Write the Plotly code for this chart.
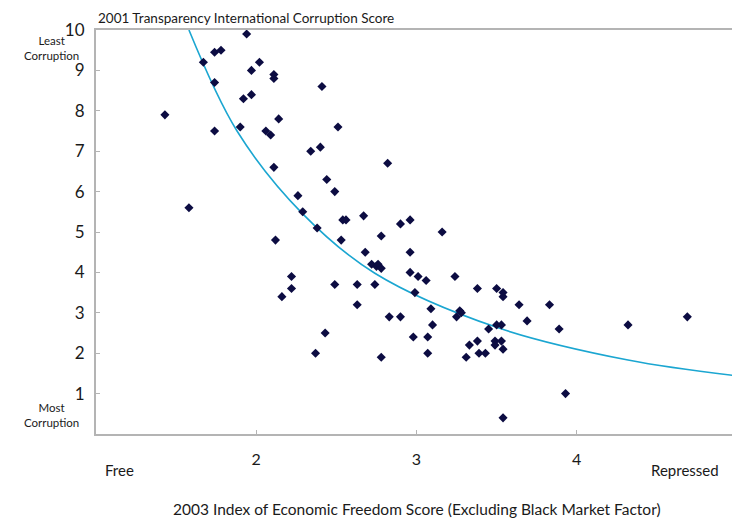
import plotly.graph_objects as go

# 2003 Index of Economic Freedom (x) vs 2001 TI corruption score (y)
freedom = [1.43, 1.58, 1.67, 1.74, 1.78, 1.74, 1.74, 1.90, 1.92, 1.94,
           1.97, 1.97, 2.02, 2.06, 2.09, 2.11, 2.11, 2.11, 2.12, 2.14,
           2.16, 2.22, 2.22, 2.26, 2.29, 2.34, 2.37, 2.38, 2.40, 2.41,
           2.43, 2.44, 2.49, 2.49, 2.51, 2.53, 2.54, 2.56, 2.63, 2.63,
           2.67, 2.68, 2.72, 2.74, 2.75, 2.76, 2.78, 2.78, 2.78, 2.82,
           2.83, 2.90, 2.90, 2.96, 2.96, 2.96, 2.98, 2.99, 3.01, 3.06,
           3.07, 3.07, 3.09, 3.10, 3.16, 3.24, 3.25, 3.27, 3.28, 3.31,
           3.33, 3.38, 3.38, 3.39, 3.43, 3.45, 3.49, 3.49, 3.50, 3.50,
           3.53, 3.53, 3.54, 3.54, 3.54, 3.54, 3.64, 3.69, 3.83, 3.89,
           3.93, 4.32, 4.69]
corruption = [7.9, 5.6, 9.2, 9.45, 9.5, 8.7, 7.5, 7.6, 8.3, 9.9,
              9.0, 8.4, 9.2, 7.5, 7.4, 8.9, 8.8, 6.6, 4.8, 7.8,
              3.4, 3.9, 3.6, 5.9, 5.5, 7.0, 2.0, 5.1, 7.1, 8.6,
              2.5, 6.3, 6.0, 3.7, 7.6, 4.8, 5.3, 5.3, 3.7, 3.2,
              5.4, 4.5, 4.2, 3.7, 4.15, 4.2, 4.1, 4.9, 1.9, 6.7,
              2.9, 2.9, 5.2, 5.3, 4.5, 4.0, 2.4, 3.5, 3.9, 3.8,
              2.4, 2.0, 3.1, 2.7, 5.0, 3.9, 2.9, 3.05, 3.0, 1.9,
              2.2, 2.3, 3.6, 2.0, 2.0, 2.6, 2.3, 2.2, 3.6, 2.7,
              2.7, 2.3, 2.1, 3.5, 3.4, 0.4, 3.2, 2.8, 3.2, 2.6,
              1.0, 2.7, 2.9]

# trend curve
trend_x = [1.58, 1.88, 2.29, 2.74, 3.50, 4.32, 5.00]
trend_y = [10.0, 7.50, 5.45, 3.98, 2.64, 1.83, 1.44]

x_ticks = [2, 3, 4, 5]
y_ticks = [1, 2, 3, 4, 5, 6, 7, 8, 9, 10]

FONT = 'Lato, "Open Sans", sans-serif'
AXIS_GREY = '#b4b4b4'
TEXT = '#1a1a1a'

fig = go.Figure()

fig.add_trace(go.Scatter(
    x=trend_x, y=trend_y,
    mode='lines',
    line=dict(color='#1ba6d1', width=1.6, shape='spline', smoothing=1.0),
    hoverinfo='skip',
))

fig.add_trace(go.Scatter(
    x=freedom, y=corruption,
    mode='markers',
    marker=dict(symbol='diamond', size=7, color='#0c0c42'),
    hovertemplate='%{x}<br>%{y}<extra></extra>',
))

# page body adds an 8px offset, so the figure is drawn a bit smaller
fig.update_layout(
    width=732, height=511,
    paper_bgcolor='white',
    plot_bgcolor='white',
    showlegend=False,
    font=dict(family=FONT, color=TEXT),
    margin=dict(l=88, r=3, t=22, b=85),
    xaxis=dict(
        range=[1, 5], tickvals=x_ticks, ticktext=[str(v) for v in x_ticks],
        showgrid=False, zeroline=False, automargin=False,
        showline=True, linecolor=AXIS_GREY, linewidth=2, mirror=True,
        ticks='inside', ticklen=4, tickcolor=AXIS_GREY,
        tickfont=dict(size=16, color=TEXT), ticklabelstandoff=10,
        ticklabeloverflow='allow',
    ),
    yaxis=dict(
        range=[0, 10], tickvals=y_ticks, ticktext=[str(v) for v in y_ticks],
        showgrid=False, zeroline=False, automargin=False,
        showline=True, linecolor=AXIS_GREY, linewidth=2, mirror=True,
        ticks='inside', ticklen=4, tickcolor=AXIS_GREY,
        tickfont=dict(size=17, color=TEXT), ticklabelstandoff=6,
    ),
)

fig.add_annotation(text='2001 Transparency International Corruption Score',
                   xref='paper', yref='paper', x=0, y=1.0, xanchor='left', yanchor='bottom',
                   yshift=2, showarrow=False, font=dict(size=13.5, color=TEXT))
fig.add_annotation(text='Least<br>Corruption', xref='paper', yref='paper',
                   x=-0.070, y=0.996, xanchor='center', yanchor='top',
                   showarrow=False, font=dict(size=11.5, color=TEXT))
fig.add_annotation(text='Most<br>Corruption', xref='paper', yref='paper',
                   x=-0.070, y=0.086, xanchor='center', yanchor='top',
                   showarrow=False, font=dict(size=11.5, color=TEXT))
fig.add_annotation(text='Free', xref='paper', yref='paper',
                   x=0.011, y=-0.062, xanchor='left', yanchor='top',
                   showarrow=False, font=dict(size=15, color=TEXT))
fig.add_annotation(text='Repressed', xref='paper', yref='paper',
                   x=0.975, y=-0.062, xanchor='right', yanchor='top',
                   showarrow=False, font=dict(size=15, color=TEXT))
fig.add_annotation(text='2003 Index of Economic Freedom Score (Excluding Black Market Factor)',
                   xref='paper', yref='paper', x=0.5, y=-0.158, xanchor='center', yanchor='top',
                   showarrow=False, font=dict(size=15.5, color=TEXT))

fig.write_html("out.html")
